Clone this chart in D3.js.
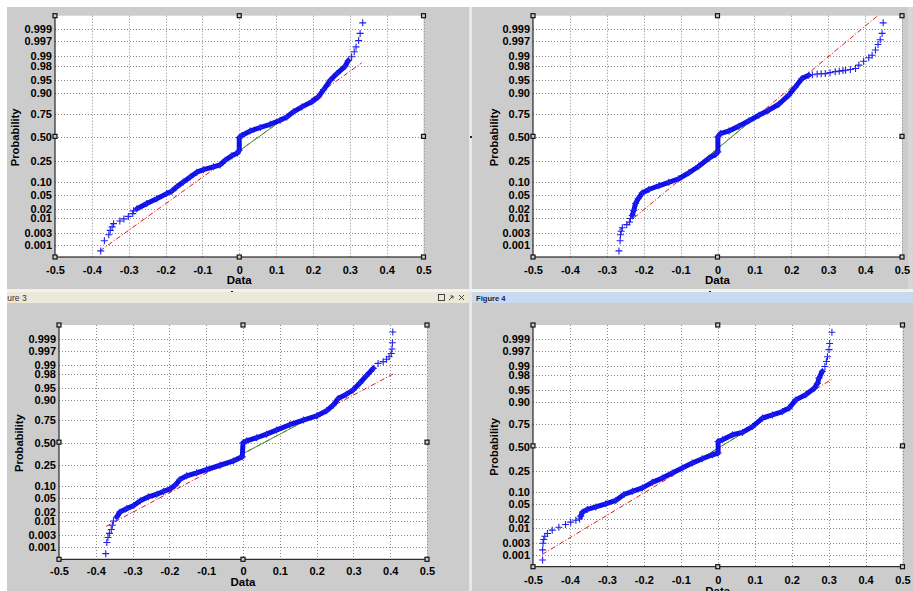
<!DOCTYPE html>
<html>
<head>
<meta charset="utf-8">
<script src="https://cdn.jsdelivr.net/npm/d3@7"></script>
<style>
  body { margin: 0; background: #fff; }
  svg { display: block; }
  text { font-family: "Liberation Sans", Arial, sans-serif; }
</style>
</head>
<body>
<svg id="chart" width="913" height="591"></svg>
<script>
// ---- axis ticks ----
const xTicks  = [-0.5, -0.4, -0.3, -0.2, -0.1, 0, 0.1, 0.2, 0.3, 0.4, 0.5];
const xLabels = ["-0.5", "-0.4", "-0.3", "-0.2", "-0.1", "0", "0.1", "0.2", "0.3", "0.4", "0.5"];
const probTicks  = [0.001, 0.003, 0.01, 0.02, 0.05, 0.10, 0.25, 0.50, 0.75, 0.90, 0.95, 0.98, 0.99, 0.997, 0.999];
const probLabels = ["0.001", "0.003", "0.01", "0.02", "0.05", "0.10", "0.25", "0.50", "0.75", "0.90", "0.95", "0.98", "0.99", "0.997", "0.999"];

// ---- samples: [data value, cumulative probability] ----
// Figure 1
const fig1Tails = [
  [-0.376, 0.00056], [-0.366, 0.0015], [-0.354, 0.0026], [-0.350, 0.0038], [-0.345, 0.0051],
  [-0.341, 0.0066], [-0.324, 0.0082], [-0.313, 0.0096], [-0.301, 0.0116], [-0.289, 0.0143],
  [-0.287, 0.0174],
  [0.305, 0.9895], [0.312, 0.9929], [0.317, 0.9952], [0.324, 0.9972], [0.328, 0.99855], [0.335, 0.99948]
];
const fig1Body = [
  [-0.278, 0.020], [-0.251, 0.0287], [-0.224, 0.039], [-0.197, 0.053], [-0.183, 0.061],
  [-0.170, 0.077], [-0.152, 0.100], [-0.133, 0.127], [-0.115, 0.158], [-0.097, 0.176],
  [-0.070, 0.198], [-0.052, 0.214], [-0.038, 0.255], [-0.020, 0.299], [-0.005, 0.326],
  [0.000, 0.354], [0.000, 0.496], [0.007, 0.52], [0.029, 0.57], [0.057, 0.61],
  [0.084, 0.645], [0.111, 0.687], [0.129, 0.72], [0.147, 0.767], [0.170, 0.808],
  [0.197, 0.845], [0.215, 0.877], [0.229, 0.914], [0.247, 0.949], [0.265, 0.966],
  [0.287, 0.979], [0.296, 0.986]
];
const fig1Fit = [[-0.378, 0.00056], [0.332, 0.9834]];

// Figure 2
const fig2Tails = [
  [-0.267, 0.00056], [-0.264, 0.0015], [-0.263, 0.0026], [-0.261, 0.0035], [-0.258, 0.0047],
  [-0.246, 0.0061], [-0.238, 0.0075], [-0.236, 0.0099],
  [0.257, 0.9635], [0.270, 0.965], [0.281, 0.9655], [0.292, 0.966], [0.305, 0.968],
  [0.319, 0.970], [0.330, 0.971], [0.340, 0.972], [0.347, 0.9726], [0.360, 0.974],
  [0.374, 0.9756], [0.383, 0.9807], [0.396, 0.9854], [0.410, 0.9887], [0.419, 0.9906],
  [0.428, 0.9938], [0.435, 0.9961], [0.441, 0.9974], [0.446, 0.99855], [0.449, 0.99948]
];
const fig2Body = [
  [-0.231, 0.0125], [-0.227, 0.018], [-0.222, 0.0287], [-0.215, 0.039], [-0.204, 0.055],
  [-0.186, 0.067], [-0.159, 0.082], [-0.132, 0.098], [-0.105, 0.117], [-0.078, 0.154],
  [-0.051, 0.203], [-0.023, 0.274], [-0.005, 0.312], [0.001, 0.337], [0.001, 0.504],
  [0.008, 0.542], [0.031, 0.572], [0.058, 0.625], [0.085, 0.681], [0.112, 0.736],
  [0.139, 0.781], [0.166, 0.828], [0.193, 0.886], [0.211, 0.925], [0.229, 0.954],
  [0.247, 0.962]
];
const fig2Fit = [[-0.267, 0.0038], [0.449, 0.99985]];

// Figure 3
const fig3Tails = [
  [-0.373, 0.00048], [-0.370, 0.0015], [-0.367, 0.0024], [-0.363, 0.0035], [-0.358, 0.0049],
  [-0.355, 0.0070], [-0.352, 0.0099],
  [0.367, 0.991], [0.381, 0.9922], [0.390, 0.9936], [0.397, 0.9948], [0.403, 0.9961],
  [0.405, 0.9974], [0.406, 0.99856], [0.407, 0.99952]
];
const fig3Body = [
  [-0.343, 0.0136], [-0.334, 0.0198], [-0.316, 0.025], [-0.297, 0.031], [-0.279, 0.042],
  [-0.257, 0.054], [-0.234, 0.063], [-0.216, 0.074], [-0.198, 0.085], [-0.184, 0.104],
  [-0.171, 0.138], [-0.153, 0.163], [-0.126, 0.186], [-0.099, 0.213], [-0.062, 0.252],
  [-0.026, 0.295], [-0.002, 0.338], [0.000, 0.5], [0.010, 0.524], [0.037, 0.560],
  [0.064, 0.602], [0.091, 0.648], [0.127, 0.705], [0.164, 0.751], [0.200, 0.788],
  [0.227, 0.830], [0.245, 0.869], [0.259, 0.907], [0.281, 0.926], [0.299, 0.942],
  [0.317, 0.962], [0.335, 0.977], [0.354, 0.9867]
];
const fig3Fit = [[-0.372, 0.0064], [0.408, 0.9798]];

// Figure 4
const fig4Tails = [
  [-0.474, 0.0006], [-0.474, 0.0016], [-0.473, 0.0029], [-0.471, 0.0040], [-0.468, 0.0053],
  [-0.461, 0.0066], [-0.448, 0.0086], [-0.430, 0.0108], [-0.412, 0.0132], [-0.398, 0.0157],
  [-0.384, 0.018], [-0.374, 0.0197],
  [0.290, 0.9895], [0.294, 0.9929], [0.297, 0.9952], [0.301, 0.9974], [0.303, 0.9985], [0.309, 0.9995]
];
const fig4Body = [
  [-0.371, 0.0238], [-0.366, 0.031], [-0.353, 0.037], [-0.330, 0.043], [-0.303, 0.052],
  [-0.276, 0.063], [-0.254, 0.087], [-0.231, 0.102], [-0.204, 0.121], [-0.177, 0.156],
  [-0.150, 0.187], [-0.123, 0.229], [-0.096, 0.274], [-0.069, 0.323], [-0.042, 0.369],
  [-0.014, 0.413], [0.001, 0.432], [0.001, 0.564], [0.013, 0.583], [0.040, 0.638],
  [0.067, 0.663], [0.094, 0.722], [0.121, 0.797], [0.148, 0.822], [0.175, 0.846],
  [0.193, 0.868], [0.211, 0.912], [0.238, 0.933], [0.261, 0.954], [0.270, 0.966],
  [0.274, 0.976], [0.283, 0.985]
];
const fig4Fit = [[-0.475, 0.00104], [0.309, 0.974]];

// ---- inverse standard normal CDF (Acklam) ----
function probit(p) {
  const a = [-3.969683028665376e+01, 2.209460984245205e+02, -2.759285104469687e+02, 1.383577518672690e+02, -3.066479806614716e+01, 2.506628277459239e+00];
  const b = [-5.447609879822406e+01, 1.615858368580409e+02, -1.556989798598866e+02, 6.680131188771972e+01, -1.328068155288572e+01];
  const c = [-7.784894002430293e-03, -3.223964580411365e-01, -2.400758277161838e+00, -2.549732539343734e+00, 4.374664141464968e+00, 2.938163982698783e+00];
  const d = [7.784695709041462e-03, 3.224671290700398e-01, 2.445134137142996e+00, 3.754408661907416e+00];
  const pl = 0.02425, ph = 1 - pl;
  let q, r;
  if (p < pl) {
    q = Math.sqrt(-2 * Math.log(p));
    return (((((c[0]*q + c[1])*q + c[2])*q + c[3])*q + c[4])*q + c[5]) / ((((d[0]*q + d[1])*q + d[2])*q + d[3])*q + 1);
  }
  if (p <= ph) {
    q = p - 0.5; r = q * q;
    return (((((a[0]*r + a[1])*r + a[2])*r + a[3])*r + a[4])*r + a[5])*q / (((((b[0]*r + b[1])*r + b[2])*r + b[3])*r + b[4])*r + 1);
  }
  q = Math.sqrt(-2 * Math.log(1 - p));
  return -(((((c[0]*q + c[1])*q + c[2])*q + c[3])*q + c[4])*q + c[5]) / ((((d[0]*q + d[1])*q + d[2])*q + d[3])*q + 1);
}

const svg = d3.select("#chart");
const FIG_BG = "#cccccc";

// ---- window chrome ----
svg.append("rect").attr("x", 0).attr("y", 0).attr("width", 913).attr("height", 591).attr("fill", "#ffffff");
// upper row of figure windows
svg.append("rect").attr("x", 7).attr("y", 7).attr("width", 462).attr("height", 282).attr("fill", FIG_BG);
svg.append("rect").attr("x", 472).attr("y", 7).attr("width", 441).attr("height", 282).attr("fill", FIG_BG);
// lower row
svg.append("rect").attr("x", 7).attr("y", 303).attr("width", 462).attr("height", 288).attr("fill", FIG_BG);
svg.append("rect").attr("x", 472).attr("y", 303).attr("width", 441).attr("height", 288).attr("fill", FIG_BG);
// splitters
svg.append("rect").attr("x", 469).attr("y", 7).attr("width", 3).attr("height", 584).attr("fill", "#ebe9df");
svg.append("rect").attr("x", 7).attr("y", 289).attr("width", 906).attr("height", 3).attr("fill", "#f3f2ec");
svg.append("rect").attr("x", 908).attr("y", 7).attr("width", 5).attr("height", 282).attr("fill", "#d6d6d6");
svg.append("rect").attr("x", 231).attr("y", 291).attr("width", 2).attr("height", 2).attr("fill", "#222");
svg.append("rect").attr("x", 709).attr("y", 291).attr("width", 2).attr("height", 2).attr("fill", "#222");
svg.append("rect").attr("x", 470).attr("y", 136).attr("width", 2).attr("height", 2).attr("fill", "#222");

// docked window title bars
svg.append("defs").append("clipPath").attr("id", "titleClip3")
  .append("rect").attr("x", 7).attr("y", 292).attr("width", 420).attr("height", 11);
svg.append("rect").attr("x", 7).attr("y", 292).attr("width", 462).attr("height", 11).attr("fill", "#ece9d8");
svg.append("text").attr("x", -4.5).attr("y", 300.5).attr("clip-path", "url(#titleClip3)")
  .attr("font-size", 8.5).attr("fill", "#333").text("Figure 3");
// title bar buttons
svg.append("rect").attr("x", 438.5).attr("y", 294.5).attr("width", 6).attr("height", 6)
  .attr("fill", "none").attr("stroke", "#444").attr("stroke-width", 1);
svg.append("path").attr("d", "M449,300 L453,296 M450.5,296 H453 V298.5")
  .attr("fill", "none").attr("stroke", "#444").attr("stroke-width", 1);
svg.append("path").attr("d", "M459,295 L464,300 M464,295 L459,300")
  .attr("fill", "none").attr("stroke", "#444").attr("stroke-width", 1);

svg.append("rect").attr("x", 472).attr("y", 292).attr("width", 441).attr("height", 11).attr("fill", "#c8daf0");
svg.append("text").attr("x", 476).attr("y", 300.5).attr("font-size", 7.6).attr("font-weight", "bold")
  .attr("fill", "#1c2336").text("Figure 4");

// ---- panels ----
const panels = [
  { body: fig1Body, tails: fig1Tails, fit: fig1Fit, left: 55,  right: 423.5, top: 15.7, bottom: 257,   zLo: -3.434, zHi: 3.485, tickY: 273.5, dataY: 283.5, probX: 15 },
  { body: fig2Body, tails: fig2Tails, fit: fig2Fit, left: 533, right: 902,   top: 15.7, bottom: 257,   zLo: -3.434, zHi: 3.485, tickY: 273.5, dataY: 283.5, probX: 494 },
  { body: fig3Body, tails: fig3Tails, fit: fig3Fit, left: 59,  right: 427,   top: 325,  bottom: 559.3, zLo: -3.47,  zHi: 3.51,  tickY: 575,   dataY: 585.5, probX: 19 },
  { body: fig4Body, tails: fig4Tails, fit: fig4Fit, left: 533, right: 902.5, top: 325,  bottom: 566.7, zLo: -3.43,  zHi: 3.50,  tickY: 583.5, dataY: 594.5, probX: 494 }
];

const plusPath = "M-3.5,0H3.5M0,-3.5V3.5";

panels.forEach((P, i) => {
  const x = d3.scaleLinear().domain([-0.5, 0.5]).range([P.left, P.right]);
  const y = d3.scaleLinear().domain([P.zLo, P.zHi]).range([P.bottom, P.top]);
  const py = p => y(probit(p));
  const g = svg.append("g");
  const clipId = "plotClip" + i;
  svg.select("defs").append("clipPath").attr("id", clipId)
    .append("rect").attr("x", P.left).attr("y", P.top)
    .attr("width", P.right - P.left).attr("height", P.bottom - P.top);

  // plot area
  g.append("rect").attr("x", P.left).attr("y", P.top)
    .attr("width", P.right - P.left).attr("height", P.bottom - P.top).attr("fill", "#ffffff");

  // dotted grid
  const grid = g.append("g").attr("stroke", "#8a8a8a").attr("stroke-width", 1)
    .attr("stroke-dasharray", "1,2").attr("fill", "none");
  grid.selectAll("line.gx").data(xTicks.filter(t => t > -0.5)).join("line")
    .attr("x1", d => Math.round(x(d)) + 0.5).attr("x2", d => Math.round(x(d)) + 0.5)
    .attr("y1", P.top).attr("y2", P.bottom);
  grid.selectAll("line.gy").data(probTicks).join("line")
    .attr("x1", P.left).attr("x2", P.right)
    .attr("y1", d => Math.round(py(d)) + 0.5).attr("y2", d => Math.round(py(d)) + 0.5);

  // reference line: dash-dot over the data range, solid between the quartiles
  const [f0, f1] = P.fit;
  const z0 = probit(f0[1]), z1 = probit(f1[1]);
  const xAtZ = z => f0[0] + (z - z0) * (f1[0] - f0[0]) / (z1 - z0);
  const fitG = g.append("g").attr("clip-path", `url(#${clipId})`);
  fitG.append("line")
    .attr("x1", x(f0[0])).attr("y1", y(z0)).attr("x2", x(f1[0])).attr("y2", y(z1))
    .attr("stroke", "#e01818").attr("stroke-width", 1).attr("stroke-dasharray", "5,2,1,2");
  const zq1 = probit(0.25), zq3 = probit(0.75);
  fitG.append("line")
    .attr("x1", x(xAtZ(zq1))).attr("y1", y(zq1)).attr("x2", x(xAtZ(zq3))).attr("y2", y(zq3))
    .attr("stroke", "#3aa03a").attr("stroke-width", 1);

  // dense body of the sample
  const line = d3.line().x(d => x(d[0])).y(d => py(d[1])).curve(d3.curveLinear);
  g.append("path").datum(P.body).attr("d", line)
    .attr("fill", "none").attr("stroke", "#0f0fe8").attr("stroke-width", 5)
    .attr("stroke-linejoin", "round").attr("stroke-linecap", "round");

  // plus markers
  g.append("g").selectAll("path").data(P.body.concat(P.tails)).join("path")
    .attr("transform", d => `translate(${x(d[0])},${py(d[1])})`)
    .attr("d", plusPath).attr("fill", "none")
    .attr("stroke", "#2020f0").attr("stroke-width", 1.1);

  // axes lines
  g.append("line").attr("x1", P.left).attr("x2", P.left).attr("y1", P.top).attr("y2", P.bottom)
    .attr("stroke", "#000").attr("stroke-width", 1);
  g.append("line").attr("x1", P.left).attr("x2", P.right).attr("y1", P.bottom).attr("y2", P.bottom)
    .attr("stroke", "#000").attr("stroke-width", 1);

  // y tick labels via a d3 axis on the probit scale
  const yAxis = d3.axisLeft(y)
    .tickValues(probTicks.map(probit))
    .tickFormat((d, k) => probLabels[k])
    .tickSize(0).tickPadding(3);
  const ya = g.append("g").attr("transform", `translate(${P.left},0)`).call(yAxis);
  ya.select(".domain").remove();
  ya.selectAll("text").attr("font-size", 11).attr("font-weight", "bold")
    .attr("fill", "#000").attr("font-family", "'Liberation Sans', Arial, sans-serif");

  // x tick labels via a d3 axis
  const xAxis = d3.axisBottom(x).tickValues(xTicks)
    .tickFormat((d, k) => xLabels[k]).tickSize(0).tickPadding(0);
  const xa = g.append("g").attr("transform", `translate(0,${P.tickY})`).call(xAxis);
  xa.select(".domain").remove();
  xa.selectAll("text").attr("dy", 0).attr("y", 0).attr("font-size", 11).attr("font-weight", "bold")
    .attr("fill", "#000").attr("font-family", "'Liberation Sans', Arial, sans-serif");

  // axis titles
  g.append("text").attr("x", (P.left + P.right) / 2).attr("y", P.dataY)
    .attr("text-anchor", "middle").attr("font-size", 11.5).attr("font-weight", "bold").text("Data");
  g.append("text")
    .attr("transform", `translate(${P.probX + 4},${(P.top + P.bottom) / 2 + 1}) rotate(-90)`)
    .attr("text-anchor", "middle").attr("font-size", 11.2).attr("font-weight", "bold").text("Probability");

  // selection handles on the axes box
  const mx = (P.left + P.right) / 2, my = (P.top + P.bottom) / 2;
  const handles = [[P.left, P.top], [mx, P.top], [P.right, P.top], [P.left, my], [P.right, my],
                   [P.left, P.bottom], [mx, P.bottom], [P.right, P.bottom]];
  g.append("g").selectAll("rect").data(handles).join("rect")
    .attr("x", d => d[0] - 2).attr("y", d => d[1] - 2).attr("width", 4).attr("height", 4)
    .attr("fill", "#ccc").attr("stroke", "#111").attr("stroke-width", 1.2);
});
</script>
</body>
</html>
